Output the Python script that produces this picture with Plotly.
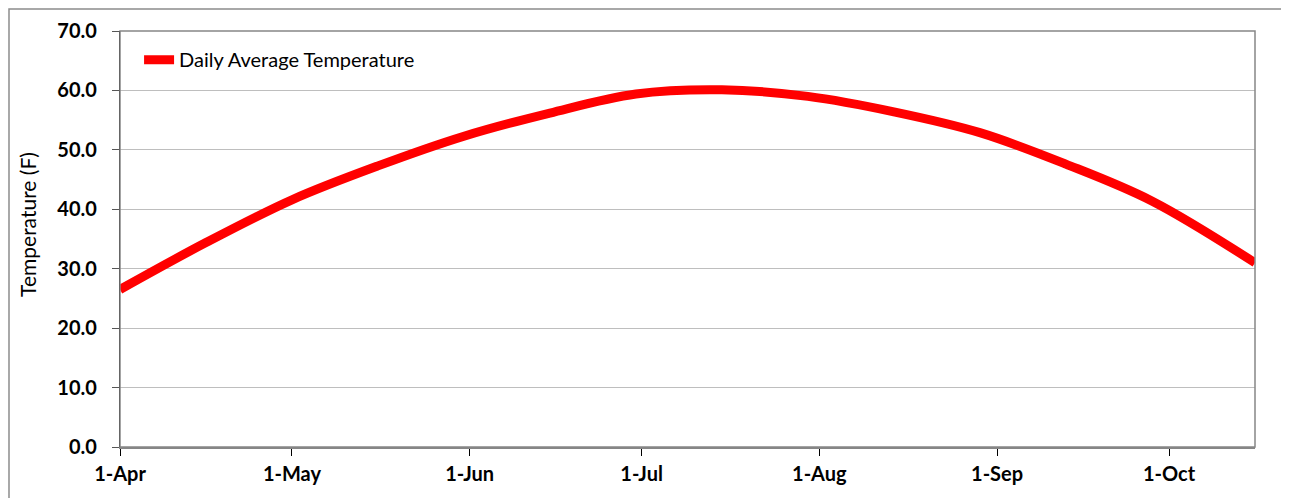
import plotly.graph_objects as go

# daily average temperature (roughly every 15 days)
dates = ["2010-04-01", "2010-04-16", "2010-05-01", "2010-05-16", "2010-05-31",
         "2010-06-15", "2010-06-30", "2010-07-15", "2010-07-30", "2010-08-14",
         "2010-08-29", "2010-09-13", "2010-09-28", "2010-10-16"]
temps = [26.5, 34.4, 41.6, 47.3, 52.3, 56.2, 59.4, 60.1, 59.0, 56.4,
         52.9, 47.6, 41.4, 31.0]
series_name = "Daily Average Temperature"
y_title = "Temperature (F)"

fig = go.Figure()
fig.add_trace(go.Scatter(x=dates, y=temps, mode="lines", name=series_name,
                         line=dict(color="#FF0000", width=9, shape="spline", smoothing=1.0)))

font = "Lato, Calibri, Carlito, sans-serif"

# outer chart frame and plot area frame
fig.add_shape(type="rect", xref="paper", yref="paper", x0=-0.0978, x1=1.05, y0=-0.16, y1=1.0529,
              line=dict(color="#8C8C8C", width=1.5), layer="below")
fig.add_shape(type="rect", xref="paper", yref="paper", x0=0, x1=1, y0=0, y1=1,
              line=dict(color="#868686", width=1.5), layer="above")

# y title sits a little above the plot centre, as in the reference
fig.add_annotation(text=y_title, xref="paper", yref="paper", x=-0.081, y=0.534,
                   textangle=-90, showarrow=False, xanchor="center", yanchor="middle",
                   font=dict(size=21, family=font, color="black"))

# page body adds an 8px margin, so the figure is sized to fill the rest
fig.update_layout(
    width=1281, height=490,
    margin=dict(l=112, r=34, t=23, b=51),
    paper_bgcolor="white", plot_bgcolor="white",
    font=dict(family=font, color="black"),
    showlegend=True,
    legend=dict(x=0.0168, y=0.978, xanchor="left", yanchor="top",
                bgcolor="rgba(0,0,0,0)", font=dict(size=20, family=font),
                itemwidth=30, tracegroupgap=0),
)
fig.update_xaxes(
    type="date", range=["2010-04-01", "2010-10-16"],
    tick0="2010-04-01", dtick="M1", tickformat="%-d-%b",
    showgrid=False, zeroline=False, automargin=False,
    showline=True, linecolor="#868686", linewidth=1.5,
    ticks="outside", ticklen=7, tickcolor="black", ticklabelstandoff=1,
    tickfont=dict(size=20, family=font, weight="bold"),
)
fig.update_yaxes(
    range=[0, 70], dtick=10, tickformat=".1f",
    showgrid=True, gridcolor="#BEBEBE", gridwidth=1, zeroline=False, automargin=False,
    showline=True, linecolor="black", linewidth=1.2,
    ticks="outside", ticklen=7, tickcolor="#555555", ticklabelstandoff=11,
    tickfont=dict(size=20, family=font, weight="bold"),
)

fig.write_html("out.html")
